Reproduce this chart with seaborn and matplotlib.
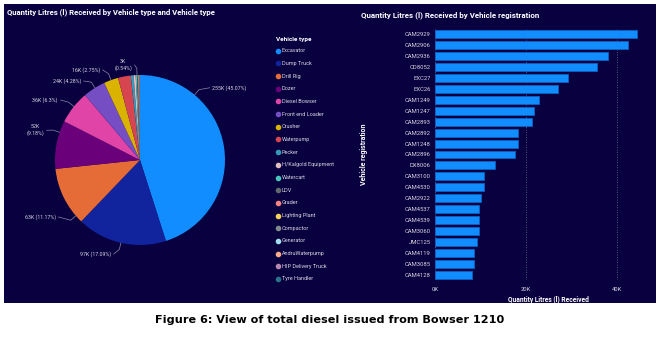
import numpy as np
import matplotlib.pyplot as plt
import seaborn as sns
from matplotlib.patches import Rectangle
from matplotlib.lines import Line2D
from matplotlib.ticker import FuncFormatter

# pie data (thousand litres)
vehicle_types = ['Excavator', 'Dump Truck', 'Drill Rig', 'Dozer', 'Diesel Bowser',
                 'Front end Loader', 'Crusher', 'Waterpump', 'Pecker', 'H/Kalgold Equipment',
                 'Watercart', 'LDV', 'Grader', 'Lighting Plant', 'Compactor', 'Generator',
                 'AndruWaterpump', 'HIP Delivery Truck', 'Tyre Handler']
type_litres_k = [255.1, 96.73, 63.22, 51.96, 35.66, 24.22, 15.57, 13.65, 3.06, 2.2,
                 1.5, 0.9, 0.7, 0.5, 0.4, 0.3, 0.15, 0.1, 0.08]
type_colors = ['#118DFF', '#12239E', '#E66C37', '#6B007B', '#E044A7', '#744EC2',
               '#D9B300', '#D64550', '#3599B8', '#DFBFBF', '#4AC5BB', '#5F6B6D',
               '#FB8281', '#F4D25A', '#7F898A', '#A4DDEE', '#FDAB89', '#B687AC', '#28738A']

# bar data (litres)
registrations = ['CAM2929', 'CAM2906', 'CAM2936', 'CD8052', 'EXC27', 'EXC26', 'CAM1249',
                 'CAM1247', 'CAM2893', 'CAM2892', 'CAM1248', 'CAM2896', 'DX8006', 'CAM3100',
                 'CAM4530', 'CAM2922', 'CAM4537', 'CAM4539', 'CAM3060', 'JMC125', 'CAM4119',
                 'CAM3085', 'CAM4128']
reg_litres = [44500, 42400, 38000, 35600, 29300, 27000, 22900, 21700, 21300, 18200, 18200,
              17600, 13300, 10800, 10700, 10100, 9700, 9600, 9600, 9300, 8600, 8500, 8100]

# outside labels: attach angle, text x, text y, two lines?
label_layout = {
    'Excavator': (50, 0.85, 0.85, False),
    'Dump Truck': (-103, -0.34, -1.107, False),
    'Drill Rig': (221, -0.99, -0.67, False),
    'Dozer': (161, -1.13, 0.35, True),
    'Diesel Bowser': (141, -0.965, 0.706, False),
    'Front end Loader': (122, -0.694, 0.93, False),
    'Crusher': (110, -0.47, 1.06, False),
    'Pecker': (92, -0.094, 1.118, True),
}

sns.set_theme(style='white')
plt.rcParams['font.family'] = ['Roboto', 'DejaVu Sans']

BG = '#09003F'
TXT = '#D6D6E0'

fig = plt.figure(figsize=(6.63, 3.37), dpi=100)
fig.patch.set_facecolor('white')
W, H = 663, 337
fig.add_artist(Rectangle((4 / W, 1 - 303 / H), 652 / W, 299 / H, transform=fig.transFigure,
                         facecolor=BG, edgecolor='none', zorder=-1))

# ---- pie ----
ax = fig.add_axes([55 / W, 1 - 245 / H, 170 / W, 170 / H])
ax.pie(type_litres_k, colors=type_colors, startangle=90, counterclock=False,
       wedgeprops=dict(linewidth=0))
ax.set_xlim(-1, 1)
ax.set_ylim(-1, 1)
ax.axis('off')

total = sum(type_litres_k)
for name, v in zip(vehicle_types, type_litres_k):
    if name not in label_layout:
        continue
    ang, tx, ty, wrap = label_layout[name]
    pct = f"{v / total * 100:.2f}".rstrip('0').rstrip('.')
    sep = '\n' if wrap else ' '
    s = f"{v:.0f}K{sep}({pct}%)"
    a = np.deg2rad(ang)
    x0, y0 = np.cos(a), np.sin(a)
    x1, y1 = 1.08 * x0, 1.08 * y0
    gap = 0.03 if tx > 0 else -0.03
    ax.plot([x0, x1, tx - gap], [y0, y1, ty], color='#8A8AA6', lw=0.5, clip_on=False)
    ax.text(tx, ty, s, ha='left' if tx > 0 else 'right', va='center', ma='center',
            fontsize=3.8, color=TXT, linespacing=1.3)

fig.text(7 / W, 1 - 12 / H, 'Quantity Litres (l) Received by Vehicle type and Vehicle type',
         fontsize=5.6, fontweight='bold', color='white', va='center', ha='left')

# legend
fig.text(276 / W, 1 - 39 / H, 'Vehicle type', fontsize=4.6, fontweight='bold',
         color='white', va='center', ha='left')
for i, (name, c) in enumerate(zip(vehicle_types, type_colors)):
    y = 1 - (50.7 + i * 12.68) / H
    fig.add_artist(Line2D([278 / W], [y], marker='o', markersize=3, color=c,
                          linestyle='none', transform=fig.transFigure))
    fig.text(281.5 / W, y, name, fontsize=4.0, color=TXT, va='center', ha='left')

# ---- bars ----
ax2 = fig.add_axes([435 / W, 1 - 280.2 / H, 216 / W, 251.4 / H])
ax2.set_facecolor('none')
sns.barplot(x=reg_litres, y=registrations, orient='h', color='#118DFF', saturation=1,
            edgecolor='#0B62C4', linewidth=0.6, width=0.72, ax=ax2)
ax2.set_xlim(0, 47500)
ax2.set_xticks([0, 20000, 40000])
ax2.xaxis.set_major_formatter(FuncFormatter(lambda v, p: f"{v / 1000:.0f}K"))
ax2.grid(axis='x', linestyle=(0, (1, 2)), color='#6E6E90', linewidth=0.6)
ax2.grid(axis='y', visible=False)
ax2.set_axisbelow(True)
for sp in ax2.spines.values():
    sp.set_visible(False)
ax2.tick_params(axis='both', length=0, labelsize=4.2, colors=TXT)
ax2.tick_params(axis='y', pad=3)
ax2.tick_params(axis='x', pad=5)
ax2.set_xlabel('Quantity Litres (l) Received', fontsize=4.8, fontweight='bold', color='white')
ax2.set_ylabel('Vehicle registration', fontsize=5.0, fontweight='bold', color='white')
ax2.xaxis.set_label_coords(0.523, -0.062)
ax2.yaxis.set_label_coords(-0.31, 0.5)

fig.text(361 / W, 1 - 15 / H, 'Quantity Litres (l) Received by Vehicle registration',
         fontsize=5.7, fontweight='bold', color='white', va='center', ha='left')

fig.text(330 / W, 1 - 320 / H, 'Figure 6: View of total diesel issued from Bowser 1210',
         fontsize=8.1, fontweight='bold', color='black', va='center', ha='center',
         family='DejaVu Sans')

fig.savefig('out.png', dpi=100)
